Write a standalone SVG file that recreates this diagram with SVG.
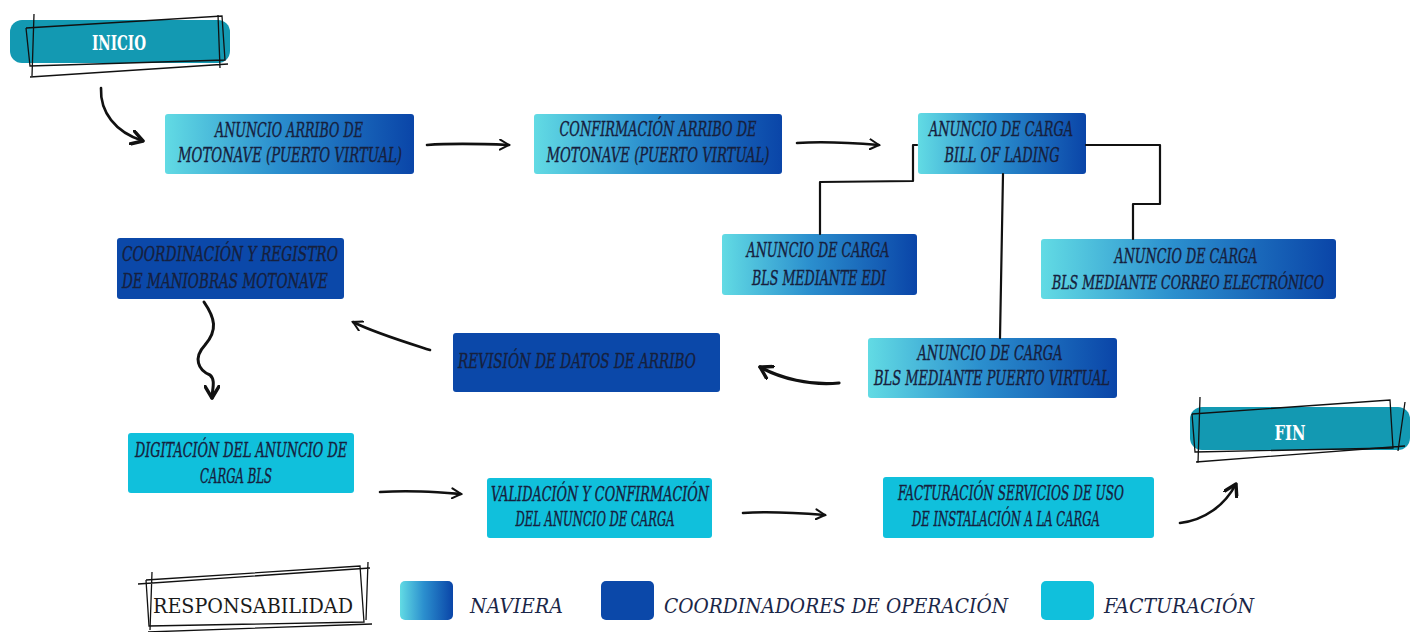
<svg xmlns="http://www.w3.org/2000/svg" width="1418" height="632" viewBox="0 0 1418 632">
<defs>
<linearGradient id="nav" x1="0" y1="0" x2="1" y2="0">
<stop offset="0" stop-color="#62dbe4"/>
<stop offset="0.45" stop-color="#2b8fce"/>
<stop offset="1" stop-color="#0a45a8"/>
</linearGradient>
<marker id="open" viewBox="0 0 12 12" refX="10" refY="6" markerWidth="12" markerHeight="12" markerUnits="userSpaceOnUse" orient="auto">
<path d="M1,1 L10,6 L1,11" fill="none" stroke="#111" stroke-width="2" stroke-linecap="round"/>
</marker>
<marker id="thick" viewBox="0 0 14 14" refX="11" refY="7" markerWidth="16" markerHeight="16" markerUnits="userSpaceOnUse" orient="auto">
<path d="M1,1 L11,7 L1,13" fill="none" stroke="#111" stroke-width="3" stroke-linecap="round" stroke-linejoin="round"/>
</marker>
</defs>
<style>
.nav{fill:url(#nav)}
.coord{fill:#0b48a9}
.fac{fill:#10c0dc}
.pill{fill:#1399b2}
.t{font-family:"DejaVu Serif","Liberation Serif",serif;font-stretch:condensed;font-style:italic;font-size:20px;fill:#16203d;stroke:#16203d;stroke-width:0.35;text-anchor:middle}
.tl{font-family:"DejaVu Serif","Liberation Serif",serif;font-stretch:condensed;font-style:italic;font-size:21px;fill:#1a2647}
.w{font-family:"DejaVu Serif","Liberation Serif",serif;font-stretch:condensed;font-weight:bold;font-size:21px;fill:#ffffff;text-anchor:middle}
.sk{fill:none;stroke:#111;stroke-width:1.3}
.ln{fill:none;stroke:#111;stroke-width:2.2;stroke-linecap:round;stroke-linejoin:round}
.ar{fill:none;stroke:#111;stroke-width:2.6;stroke-linecap:round}
</style>

<g id="inicio">
<rect class="pill" x="10" y="20" width="220" height="43" rx="12"/>
<path class="sk" d="M26,28 L222,16 L225,60 L30,66 L26,28"/>
<path class="sk" d="M34,14 L32,76 M30,77 L228,64 M218,15 L220,68"/>
<text class="w" x="119" y="50" textLength="54" lengthAdjust="spacingAndGlyphs">INICIO</text>
</g>

<g id="fin">
<rect class="pill" x="1190" y="407" width="220" height="43" rx="12"/>
<path class="sk" d="M1192,414 L1390,400 L1393,448 L1195,452 L1192,414"/>
<path class="sk" d="M1200,397 L1198,463 M1196,462 L1405,446 M1405,402 L1398,451"/>
<text class="w" x="1290" y="440" textLength="31" lengthAdjust="spacingAndGlyphs">FIN</text>
</g>

<g id="n1">
<rect class="nav" x="165" y="114" width="249" height="60" rx="3"/>
<text class="t" x="289" y="137" textLength="148" lengthAdjust="spacingAndGlyphs">ANUNCIO ARRIBO DE</text>
<text class="t" x="290" y="162" textLength="224" lengthAdjust="spacingAndGlyphs">MOTONAVE (PUERTO VIRTUAL)</text>
</g>

<g id="n2">
<rect class="nav" x="534" y="114" width="248" height="60" rx="3"/>
<text class="t" x="658" y="136" textLength="197" lengthAdjust="spacingAndGlyphs">CONFIRMACIÓN  ARRIBO DE</text>
<text class="t" x="658" y="162" textLength="223" lengthAdjust="spacingAndGlyphs">MOTONAVE (PUERTO VIRTUAL)</text>
</g>

<g id="n3">
<rect class="nav" x="918" y="113" width="168" height="61" rx="3"/>
<text class="t" x="1001" y="136" textLength="144" lengthAdjust="spacingAndGlyphs">ANUNCIO DE CARGA</text>
<text class="t" x="1002" y="162" textLength="115" lengthAdjust="spacingAndGlyphs">BILL OF LADING</text>
</g>

<g id="edi">
<rect class="nav" x="722" y="234" width="195" height="61" rx="3"/>
<text class="t" x="818" y="257" textLength="143" lengthAdjust="spacingAndGlyphs">ANUNCIO DE CARGA</text>
<text class="t" x="819" y="285" textLength="134" lengthAdjust="spacingAndGlyphs">BLS MEDIANTE EDI</text>
</g>

<g id="correo">
<rect class="nav" x="1041" y="239" width="295" height="60" rx="3"/>
<text class="t" x="1186" y="263" textLength="143" lengthAdjust="spacingAndGlyphs">ANUNCIO DE CARGA</text>
<text class="t" x="1188" y="289" style="font-size:18px" textLength="272" lengthAdjust="spacingAndGlyphs">BLS MEDIANTE CORREO ELECTRÓNICO</text>
</g>

<g id="pv">
<rect class="nav" x="868" y="338" width="249" height="60" rx="3"/>
<text class="t" x="990" y="360" textLength="145" lengthAdjust="spacingAndGlyphs">ANUNCIO DE CARGA</text>
<text class="t" x="992" y="385" textLength="236" lengthAdjust="spacingAndGlyphs">BLS MEDIANTE PUERTO VIRTUAL</text>
</g>

<g id="coord">
<rect class="coord" x="117" y="238" width="227" height="61" rx="3"/>
<text class="t" x="230" y="261" textLength="216" lengthAdjust="spacingAndGlyphs">COORDINACIÓN Y REGISTRO</text>
<text class="t" x="225" y="288" textLength="206" lengthAdjust="spacingAndGlyphs">DE MANIOBRAS MOTONAVE</text>
</g>

<g id="revision">
<rect class="coord" x="453" y="333" width="267" height="59" rx="3"/>
<text class="t" x="577" y="368" textLength="238" lengthAdjust="spacingAndGlyphs">REVISIÓN DE DATOS DE ARRIBO</text>
</g>

<g id="digitacion">
<rect class="fac" x="128" y="433" width="226" height="60" rx="3"/>
<text class="t" x="241" y="457" textLength="212" lengthAdjust="spacingAndGlyphs">DIGITACIÓN DEL ANUNCIO DE</text>
<text class="t" x="236" y="483" textLength="72" lengthAdjust="spacingAndGlyphs">CARGA BLS</text>
</g>

<g id="validacion">
<rect class="fac" x="487" y="478" width="225" height="60" rx="3"/>
<text class="t" x="600" y="501" textLength="218" lengthAdjust="spacingAndGlyphs">VALIDACIÓN Y CONFIRMACIÓN</text>
<text class="t" x="595" y="526" textLength="159" lengthAdjust="spacingAndGlyphs">DEL ANUNCIO DE CARGA</text>
</g>

<g id="facturacion">
<rect class="fac" x="883" y="477" width="271" height="61" rx="3"/>
<text class="t" x="1011" y="500" textLength="226" lengthAdjust="spacingAndGlyphs">FACTURACIÓN SERVICIOS DE USO</text>
<text class="t" x="1006" y="526" textLength="188" lengthAdjust="spacingAndGlyphs">DE INSTALACIÓN A LA CARGA</text>
</g>

<g id="connectors">
<path class="ar" d="M101,88 C100,112 115,132 143,141" marker-end="url(#thick)"/>
<path class="ar" d="M427,145 C455,143 485,144 509,145" marker-end="url(#open)"/>
<path class="ar" d="M797,143 C825,141 855,143 879,145" marker-end="url(#open)"/>
<path class="ln" d="M917,145 L913,145 L913,181 L820,182 L820,234"/>
<path class="ln" d="M1086,145 L1160,145 L1160,204 L1133,204 L1133,239"/>
<path class="ln" d="M1003,174 L1000,338"/>
<path class="ar" style="stroke-width:3.2" d="M839,383 C810,386 780,378 760,367" marker-end="url(#thick)"/>
<path class="ar" d="M430,350 C405,342 375,333 353,322" marker-end="url(#open)"/>
<path class="ar" style="stroke-width:3" d="M204,302 C215,318 218,330 205,345 C193,358 198,370 210,375 C216,380 212,390 212,398" marker-end="url(#thick)"/>
<path class="ar" d="M380,492 C410,490 435,492 461,494" marker-end="url(#open)"/>
<path class="ar" d="M743,513 C770,511 800,513 825,515" marker-end="url(#open)"/>
<path class="ar" d="M1180,523 C1205,520 1225,505 1236,484" marker-end="url(#thick)"/>
</g>

<g id="legend">
<path class="sk" d="M146,580 L360,566 L364,622 L149,626 L146,580"/>
<path class="sk" d="M152,572 L150,630 M138,584 L370,568 M368,562 L366,620 M148,632 L372,624"/>
<text x="253" y="613" font-family="'DejaVu Serif','Liberation Serif',serif" font-stretch="condensed" font-size="21" fill="#1a1a1a" text-anchor="middle" textLength="200" lengthAdjust="spacingAndGlyphs">RESPONSABILIDAD</text>
<rect class="nav" x="400" y="581" width="53" height="39" rx="5"/>
<text class="tl" x="470" y="613" textLength="93" lengthAdjust="spacing">NAVIERA</text>
<rect class="coord" x="601" y="581" width="53" height="39" rx="5"/>
<text class="tl" x="664" y="613" textLength="344" lengthAdjust="spacingAndGlyphs">COORDINADORES DE OPERACIÓN</text>
<rect class="fac" x="1041" y="581" width="53" height="39" rx="5"/>
<text class="tl" x="1104" y="613" textLength="150" lengthAdjust="spacingAndGlyphs">FACTURACIÓN</text>
</g>
</svg>
